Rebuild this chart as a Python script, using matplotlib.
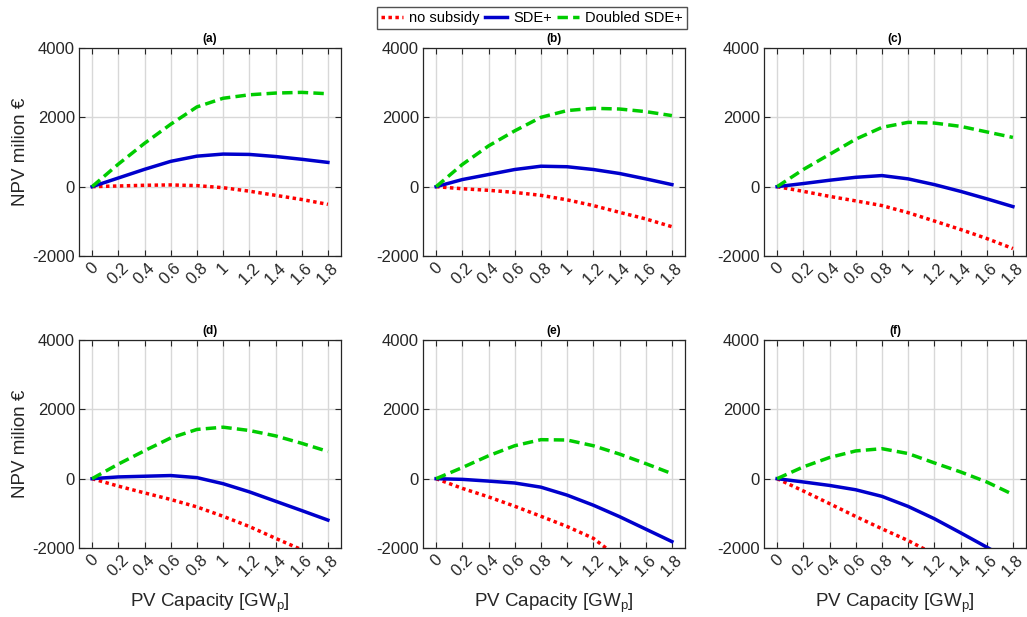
import matplotlib.pyplot as plt
import numpy as np

plt.rcParams['font.family'] = ['Liberation Sans', 'DejaVu Sans']
plt.rcParams['axes.unicode_minus'] = False

# PV capacity [GWp]
pv_capacity = [0, 0.2, 0.4, 0.6, 0.8, 1.0, 1.2, 1.4, 1.6, 1.8]
tick_labels = ['0', '0.2', '0.4', '0.6', '0.8', '1', '1.2', '1.4', '1.6', '1.8']
panel_titles = ['(a)', '(b)', '(c)', '(d)', '(e)', '(f)']
series_names = ['no subsidy', 'SDE+', 'Doubled SDE+']

# NPV million EUR, one list per panel
no_subsidy_a = [0, 20, 40, 50, 30, -30, -130, -250, -370, -510]
sde_a = [0, 250, 500, 730, 880, 940, 930, 870, 790, 700]
doubled_a = [0, 650, 1250, 1800, 2300, 2550, 2650, 2700, 2720, 2680]

no_subsidy_b = [0, -60, -105, -165, -250, -380, -545, -740, -930, -1155]
sde_b = [0, 205, 350, 495, 590, 575, 495, 380, 225, 60]
doubled_b = [0, 640, 1175, 1610, 2000, 2195, 2260, 2240, 2165, 2050]

no_subsidy_c = [0, -135, -280, -410, -545, -750, -990, -1235, -1495, -1785]
sde_c = [0, 90, 185, 270, 320, 225, 60, -135, -350, -575]
doubled_c = [0, 495, 930, 1370, 1710, 1855, 1835, 1740, 1580, 1420]

no_subsidy_d = [0, -215, -410, -600, -815, -1085, -1380, -1720, -2050, -2400]
sde_d = [0, 50, 70, 90, 30, -145, -380, -650, -920, -1195]
doubled_d = [0, 420, 805, 1175, 1420, 1485, 1390, 1235, 1020, 785]

no_subsidy_e = [0, -280, -525, -795, -1085, -1380, -1720, -2300, -2600, -2900]
sde_e = [0, -20, -70, -125, -245, -475, -765, -1095, -1455, -1815]
doubled_e = [0, 320, 660, 950, 1125, 1115, 950, 710, 435, 145]

no_subsidy_f = [0, -355, -720, -1090, -1445, -1785, -2180, -2580, -2980, -3380]
sde_f = [0, -95, -195, -320, -510, -800, -1155, -1560, -1975, -2400]
doubled_f = [0, 340, 610, 800, 865, 725, 455, 195, -95, -455]

panels = [
    (no_subsidy_a, sde_a, doubled_a),
    (no_subsidy_b, sde_b, doubled_b),
    (no_subsidy_c, sde_c, doubled_c),
    (no_subsidy_d, sde_d, doubled_d),
    (no_subsidy_e, sde_e, doubled_e),
    (no_subsidy_f, sde_f, doubled_f),
]

W, H = 1027, 617
fig = plt.figure(figsize=(W / 100, H / 100), dpi=100)

lefts = [79, 423, 764]
tops = [48, 340]
ax_w, ax_h = 262, 208

handles = None
for i, (red, blue, green) in enumerate(panels):
    row, col = divmod(i, 3)
    ax = fig.add_axes([lefts[col] / W, 1 - (tops[row] + ax_h) / H, ax_w / W, ax_h / H])
    ax.grid(True, color='#d8d8d8', linewidth=1)
    ax.set_axisbelow(True)
    l1, = ax.plot(pv_capacity, red, color='#ff0000', linewidth=2.5,
                  dashes=(1, 1), dash_capstyle='butt')
    l2, = ax.plot(pv_capacity, blue, color='#0000cc', linewidth=2.5)
    l3, = ax.plot(pv_capacity, green, color='#00cc00', linewidth=2.5,
                  dashes=(3.0, 1.5), dash_capstyle='butt')
    handles = [l1, l2, l3]

    ax.set_xlim(-0.1, 1.9)
    ax.set_ylim(-2000, 4000)
    ax.set_xticks(pv_capacity)
    ax.set_xticklabels(tick_labels, rotation=45)
    ax.set_yticks([-2000, 0, 2000, 4000])
    ax.tick_params(direction='in', top=True, right=True, labelsize=12,
                   length=4, width=0.8, colors='#262626', pad=3)
    for s in ax.spines.values():
        s.set_color('#262626')
        s.set_linewidth(0.9)
    ax.set_title(panel_titles[i], fontsize=8.5, fontweight='bold', pad=4)
    if col == 0:
        ax.set_ylabel('NPV milion €', fontsize=13.5, color='#262626', labelpad=2)
    if row == 1:
        ax.set_xlabel('PV Capacity [GW$_\\mathregular{p}$]', fontsize=13.5,
                      color='#262626', labelpad=9)

fig.legend(handles, series_names, loc='center', bbox_to_anchor=(532 / W, 1 - 18 / H),
           ncol=3, fontsize=10.5, frameon=True, fancybox=False, edgecolor='#262626',
           handlelength=1.5, handletextpad=0.4, columnspacing=0.4, borderpad=0.25,
           borderaxespad=0)

fig.savefig('out.png', dpi=100)
